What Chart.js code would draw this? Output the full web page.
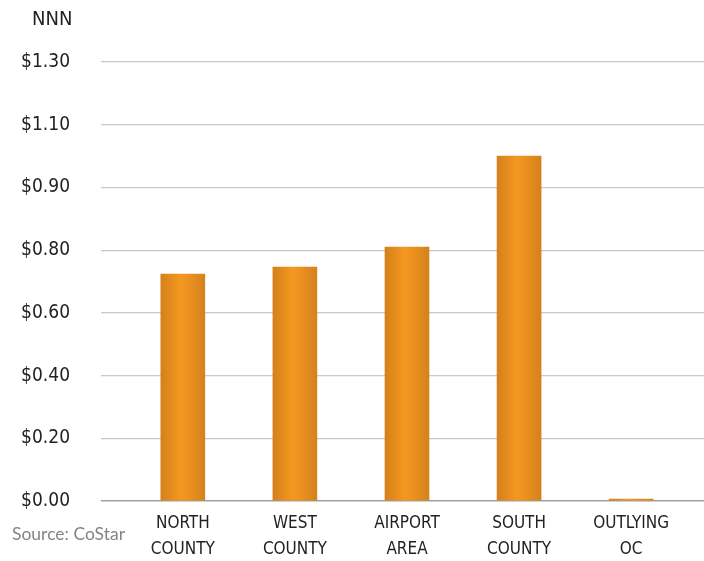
<!DOCTYPE html>
<html>
<head>
<meta charset="utf-8">
<script src="https://cdn.jsdelivr.net/npm/chart.js@4"></script>
<style>
  html, body { margin: 0; padding: 0; background: #fff; }
  #wrap { width: 704px; height: 561px; position: relative; }
</style>
</head>
<body>
<div id="wrap"><canvas id="rentChart"></canvas></div>
<script>
// chart data
const categories = [['NORTH', 'COUNTY'], ['WEST', 'COUNTY'], ['AIRPORT', 'AREA'], ['SOUTH', 'COUNTY'], ['OUTLYING', 'OC']];
const rentValues = [0.724, 0.746, 0.81, 1.10, 0.006];   // in axis units (gridline steps of 0.2)
const yTickLabels = ['$0.00', '$0.20', '$0.40', '$0.60', '$0.80', '$0.90', '$1.10', '$1.30'];
const unitLabel = 'NNN';
const sourceNote = 'Source: CoStar';

const condensed = '"DejaVu Sans Condensed", "Liberation Sans Narrow", sans-serif';

// orange bar with a lighter stripe down the middle
function barGradient(ctx) {
  const chart = ctx.chart;
  if (!chart.chartArea || !chart.scales.x || ctx.type !== 'data') return '#e88d20';
  const cx = chart.scales.x.getPixelForValue(ctx.dataIndex);
  const half = 22;
  const g = chart.ctx.createLinearGradient(cx - half, 0, cx + half, 0);
  g.addColorStop(0, '#d4801c');
  g.addColorStop(0.45, '#f5981f');
  g.addColorStop(1, '#d5821d');
  return g;
}

// "NNN" and source note are drawn as plain text
const extraText = {
  id: 'extraText',
  afterDraw(chart) {
    const c = chart.ctx;
    c.save();
    c.fillStyle = '#222';
    c.font = '20px ' + condensed;
    c.textBaseline = 'middle';
    c.textAlign = 'left';
    c.fillText(unitLabel, 32, 20);
    c.fillStyle = '#858585';
    c.font = '17.5px Lato, "Noto Sans", sans-serif';
    c.fillText(sourceNote, 12, 534);
    c.restore();
  }
};

new Chart(document.getElementById('rentChart'), {
  type: 'bar',
  data: {
    datasets: [{
      data: rentValues.map((v, i) => ({ x: i, y: v })),
      backgroundColor: barGradient,
      borderWidth: 0,
      barThickness: 44
    }]
  },
  options: {
    responsive: true,
    maintainAspectRatio: false,
    animation: false,
    layout: { padding: { top: 62, right: 0, left: 0, bottom: 0 } },
    plugins: {
      legend: { display: false },
      tooltip: { enabled: false }
    },
    scales: {
      x: {
        type: 'linear',
        offset: false,
        min: -0.73,
        max: 4.65,
        grid: { display: false, drawTicks: false, tickLength: 0 },
        border: { display: false },
        afterFit: (scale) => { scale.height = 60; },
        ticks: {
          stepSize: 1,
          includeBounds: false,
          autoSkip: false,
          maxRotation: 0,
          padding: 10,
          color: '#222',
          font: { family: condensed, size: 17, lineHeight: 1.5 },
          callback: (v) => (Number.isInteger(v) && categories[v]) ? categories[v] : ''
        }
      },
      y: {
        min: 0,
        max: 1.4,
        border: { display: false },
        afterFit: (scale) => { scale.width = 101; },
        grid: {
          drawTicks: false,
          color: (ctx) => ctx.tick && ctx.tick.value === 0 ? '#a0a0a0' : '#c8c8c8',
          lineWidth: (ctx) => ctx.tick && ctx.tick.value === 0 ? 1.5 : 1.2
        },
        ticks: {
          stepSize: 0.2,
          padding: 31,
          color: '#222',
          font: { family: condensed, size: 19 },
          callback: (v, i) => yTickLabels[i]
        }
      }
    }
  },
  plugins: [extraText]
});
</script>
</body>
</html>
